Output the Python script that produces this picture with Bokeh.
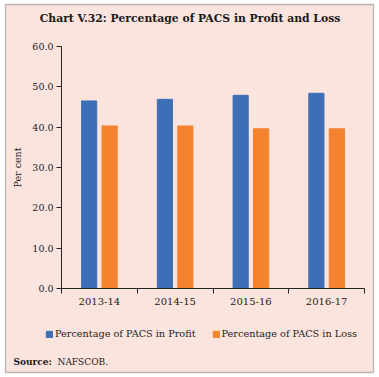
import numpy as np
from bokeh.plotting import figure
from bokeh.models import (ColumnDataSource, FixedTicker, Legend, LegendItem,
                          Range1d, Label, BoxAnnotation)
from bokeh.transform import dodge
from bokeh.embed import file_html
from bokeh.resources import INLINE

categories = ["2013-14", "2014-15", "2015-16", "2016-17"]
profit = [46.5, 46.9, 47.9, 48.4]
loss = [40.3, 40.3, 39.6, 39.6]
y_ticks = [0, 10, 20, 30, 40, 50, 60]

title_text = "Chart V.32: Percentage of PACS in Profit and Loss"
series_names = ["Percentage of PACS in Profit", "Percentage of PACS in Loss"]
y_label = "Per cent"
source_label = "Source:"
source_text = "NAFSCOB."

BLUE = "#3D6FB6"
ORANGE = "#F5822F"
PINK = "#FAE4DD"
FONT = "DejaVu Serif"
INK = "#222222"

W, H = 379, 377
# plot-area placement in canvas pixels
PL, PR, PT, PB = 61, 364, 46, 288
YMAX = 60
NCAT = len(categories)

xs = (PR - PL) / NCAT
ys = (PB - PT) / YMAX
x_range = Range1d(-PL / xs, NCAT + (W - PR) / xs)
y_range = Range1d(-(H - PB) / ys, YMAX + PT / ys)

x_pos = np.arange(NCAT) + 0.5
src = ColumnDataSource(dict(x=x_pos, profit=profit, loss=loss))

p = figure(width=W, height=H, output_backend="svg", toolbar_location=None,
           title=None, x_range=x_range, y_range=y_range,
           min_border=0)
p.border_fill_color = "white"
p.background_fill_color = "white"
p.outline_line_color = None
p.grid.visible = False

# outer framed panel
p.add_layout(BoxAnnotation(left=5, right=373, bottom=H - 372, top=H - 4,
                           left_units="screen", right_units="screen",
                           top_units="screen", bottom_units="screen",
                           fill_color=PINK, fill_alpha=1, line_color="#2b2b2b",
                           line_width=1.3, level="underlay"))

r1 = p.vbar(x=dodge("x", -0.135, range=p.x_range), top="profit", width=0.2,
            source=src, fill_color=BLUE, line_color=BLUE)
r2 = p.vbar(x=dodge("x", 0.135, range=p.x_range), top="loss", width=0.2,
            source=src, fill_color=ORANGE, line_color=ORANGE)

# x axis at y=0: labels at centres, tick marks at boundaries (minor ticks)
xa = p.xaxis[0]
xa.fixed_location = 0
xa.bounds = (0, NCAT)
xa.ticker = FixedTicker(ticks=list(x_pos), minor_ticks=list(range(NCAT + 1)))
xa.major_label_overrides = {float(v): c for v, c in zip(x_pos, categories)}
xa.major_tick_out = 0
xa.major_tick_in = 0
xa.minor_tick_out = 5
xa.minor_tick_in = 0
xa.minor_tick_line_color = INK
xa.axis_line_color = INK
xa.major_label_text_font = FONT
xa.major_label_text_font_size = "10px"
xa.major_label_text_color = INK
xa.major_label_standoff = 4

ya = p.yaxis[0]
ya.fixed_location = 0
ya.bounds = (0, YMAX)
ya.ticker = FixedTicker(ticks=y_ticks, minor_ticks=[])
ya.major_label_overrides = {v: f"{v:.1f}" for v in y_ticks}
ya.major_tick_out = 5
ya.major_tick_in = 0
ya.axis_line_color = INK
ya.major_tick_line_color = INK
ya.major_label_text_font = FONT
ya.major_label_text_font_size = "9.5px"
ya.major_label_text_color = INK
ya.major_label_standoff = 3

# y-axis title, centred on the value axis
p.add_layout(Label(x=17, y=H - (PT + PB) / 2, x_units="screen", y_units="screen",
                   text=y_label, angle=np.pi / 2, text_font=FONT,
                   text_font_size="9.5px", text_align="center",
                   text_baseline="middle", text_color=INK))

legend = Legend(items=[LegendItem(label=series_names[0], renderers=[r1]),
                       LegendItem(label=series_names[1], renderers=[r2])],
                orientation="horizontal", location=(45, H - 339),
                background_fill_alpha=0, border_line_color=None,
                glyph_width=8, glyph_height=8, label_standoff=2, spacing=16,
                padding=0, margin=0,
                label_text_font=FONT, label_text_font_size="9.7px",
                label_text_color=INK)
p.add_layout(legend, "center")

p.add_layout(Label(x=189.5, y=H - 18, x_units="screen", y_units="screen",
                   text=title_text, text_font=FONT, text_font_style="bold",
                   text_font_size="10.8px", text_align="center",
                   text_baseline="middle", text_color="#1a1a1a"))
p.add_layout(Label(x=13, y=H - 361, x_units="screen", y_units="screen",
                   text=source_label, text_font=FONT, text_font_style="bold",
                   text_font_size="9px", text_align="left",
                   text_baseline="middle", text_color="#1a1a1a"))
p.add_layout(Label(x=57, y=H - 361, x_units="screen", y_units="screen",
                   text=source_text, text_font=FONT,
                   text_font_size="9px", text_align="left",
                   text_baseline="middle", text_color="#1a1a1a"))

open("out.html", "w").write(file_html(p, INLINE))
